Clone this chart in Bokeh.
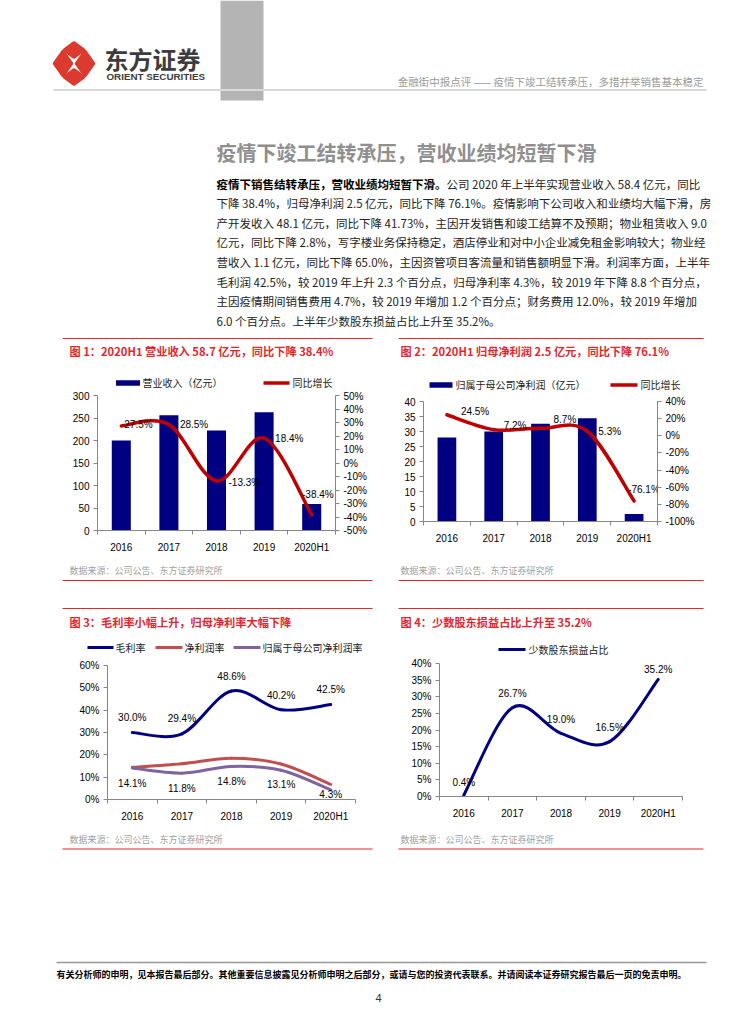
from bokeh.plotting import figure
from bokeh.layouts import column, row
from bokeh.models import Range1d, LinearAxis, FixedTicker, PrintfTickFormatter, ColumnDataSource, Label
from bokeh.core.properties import value
from bokeh.embed import file_html
from bokeh.resources import INLINE

# ---------------- data ----------------
categories = ["2016", "2017", "2018", "2019", "2020H1"]
revenue = [200, 256, 222, 263, 58.7]              # 营业收入（亿元）
revenue_yoy = [27.5, 28.5, -13.3, 18.4, -38.4]    # 同比增长 %
profit = [28.0, 30.0, 32.6, 34.4, 2.5]            # 归属于母公司净利润（亿元）
profit_yoy = [24.5, 7.2, 8.7, 5.3, -76.1]         # 同比增长 %
gross_margin = [30.0, 29.4, 48.6, 40.2, 42.5]     # 毛利率 %
net_margin = [14.4, 16.0, 18.5, 15.9, 6.8]        # 净利润率 %
parent_net_margin = [14.1, 11.8, 14.8, 13.1, 4.3] # 归属于母公司净利润率 %
minority_share = [0.4, 26.7, 19.0, 16.5, 35.2]    # 少数股东损益占比 %

rev_ticks = [0, 50, 100, 150, 200, 250, 300]
rev_yoy_ticks = [-50, -40, -30, -20, -10, 0, 10, 20, 30, 40, 50]
profit_ticks = [0, 5, 10, 15, 20, 25, 30, 35, 40]
profit_yoy_ticks = [-100, -80, -60, -40, -20, 0, 20, 40]
margin_ticks = [0, 10, 20, 30, 40, 50, 60]
minority_ticks = [0, 5, 10, 15, 20, 25, 30, 35, 40]

# ---------------- texts ----------------
header_text = "金融街中报点评 —— 疫情下竣工结转承压，多措并举销售基本稳定"
section_title = "疫情下竣工结转承压，营收业绩均短暂下滑"
para_bold = "疫情下销售结转承压，营收业绩均短暂下滑。"
para_lines = [
    "公司 2020 年上半年实现营业收入 58.4 亿元，同比",
    "下降 38.4%，归母净利润 2.5 亿元，同比下降 76.1%。疫情影响下公司收入和业绩均大幅下滑，房",
    "产开发收入 48.1 亿元，同比下降 41.73%，主因开发销售和竣工结算不及预期；物业租赁收入 9.0",
    "亿元，同比下降 2.8%，写字楼业务保持稳定，酒店停业和对中小企业减免租金影响较大；物业经",
    "营收入 1.1 亿元，同比下降 65.0%，主因资管项目客流量和销售额明显下滑。利润率方面，上半年",
    "毛利润 42.5%，较 2019 年上升 2.3 个百分点，归母净利率 4.3%，较 2019 年下降 8.8 个百分点，",
    "主因疫情期间销售费用 4.7%，较 2019 年增加 1.2 个百分点；财务费用 12.0%，较 2019 年增加",
    "6.0 个百分点。上半年少数股东损益占比上升至 35.2%。",
]
fig_titles = [
    "图 1：2020H1 营业收入 58.7 亿元，同比下降 38.4%",
    "图 2：2020H1 归母净利润 2.5 亿元，同比下降 76.1%",
    "图 3：毛利率小幅上升，归母净利率大幅下降",
    "图 4：少数股东损益占比上升至 35.2%",
]
source_text = "数据来源：公司公告、东方证券研究所"
footer_text = "有关分析师的申明，见本报告最后部分。其他重要信息披露见分析师申明之后部分，或请与您的投资代表联系。并请阅读本证券研究报告最后一页的免责申明。"
page_no = "4"

# ---------------- styles ----------------
CJK = "Noto Sans CJK SC"
LAT = "Liberation Sans"
RED = "#e3262d"
NAVY = "#000080"
DKRED = "#c00000"
AXIS = "#868686"
TS = 11.2   # figure title size


def canvas(x0, x1, y0, y1):
    f = figure(width=x1 - x0, height=y1 - y0, x_range=Range1d(x0, x1), y_range=Range1d(y1, y0),
               x_axis_type=None, y_axis_type=None, output_backend="svg", toolbar_location=None,
               min_border=0, outline_line_color=None, frame_align=False)
    return f


def put(f, x, y, s, size, color="#000000", font=CJK, bold=False, align="left"):
    f.text(x=[x], y=[y], text=[s], text_font=value(font), text_font_size=f"{size}px",
           text_color=color, text_align=align, text_baseline="middle",
           text_font_style="bold" if bold else "normal")


def hline(f, x0, x1, y, color, w):
    f.segment(x0=[x0], y0=[y], x1=[x1], y1=[y], line_color=color, line_width=w)


def style_axis(ax):
    ax.axis_line_color = AXIS
    ax.major_tick_line_color = AXIS
    ax.minor_tick_line_color = None
    ax.major_label_text_font = LAT
    ax.major_label_text_font_size = "10px"
    ax.major_label_text_color = "#000000"


def chart(x0, x1, y0, y1, fx0, fx1, fy0, fy1, yrange, yticks, pct=False):
    f = figure(width=x1 - x0, height=y1 - y0, x_range=Range1d(-0.5, len(categories) - 0.5),
               y_range=Range1d(*yrange), output_backend="svg", toolbar_location=None,
               min_border_left=fx0 - x0, min_border_right=x1 - fx1,
               min_border_top=fy0 - y0, min_border_bottom=y1 - fy1,
               outline_line_color=None, frame_align=False)
    f.grid.visible = False
    xa = f.xaxis[0]
    style_axis(xa)
    xa.ticker = FixedTicker(ticks=list(range(len(categories))),
                            minor_ticks=[i - 0.5 for i in range(len(categories) + 1)])
    xa.major_label_overrides = {i: c for i, c in enumerate(categories)}
    xa.major_tick_out = 0
    xa.major_tick_in = 0
    xa.minor_tick_line_color = AXIS
    xa.minor_tick_out = 4
    xa.minor_tick_in = 0
    xa.major_label_standoff = 7
    ya = f.yaxis[0]
    style_axis(ya)
    ya.ticker = FixedTicker(ticks=yticks)
    ya.major_tick_out = 4
    ya.major_tick_in = 0
    ya.major_label_standoff = 4
    if pct:
        ya.formatter = PrintfTickFormatter(format="%d%%")
    return f


def right_pct_axis(f, yrange, yticks):
    f.extra_y_ranges = {"pct": Range1d(*yrange)}
    ra = LinearAxis(y_range_name="pct", ticker=FixedTicker(ticks=yticks),
                    formatter=PrintfTickFormatter(format="%d%%"))
    style_axis(ra)
    ra.major_tick_out = 4
    ra.major_tick_in = 0
    ra.major_label_standoff = 4
    f.add_layout(ra, "right")


def smooth(f, ys, color, width, y_range_name="default"):
    xs = list(range(len(ys)))
    n = len(xs)
    d = dict(x0=[], y0=[], x1=[], y1=[], cx0=[], cy0=[], cx1=[], cy1=[])
    for i in range(n - 1):
        a = max(i - 1, 0)
        b = min(i + 2, n - 1)
        d["x0"].append(xs[i]); d["y0"].append(ys[i])
        d["x1"].append(xs[i + 1]); d["y1"].append(ys[i + 1])
        d["cx0"].append(xs[i] + (xs[i + 1] - xs[a]) / 6.0)
        d["cy0"].append(ys[i] + (ys[i + 1] - ys[a]) / 6.0)
        d["cx1"].append(xs[i + 1] - (xs[b] - xs[i]) / 6.0)
        d["cy1"].append(ys[i + 1] - (ys[b] - ys[i]) / 6.0)
    f.bezier(x0="x0", y0="y0", x1="x1", y1="y1", cx0="cx0", cy0="cy0", cx1="cx1", cy1="cy1",
             source=ColumnDataSource(d), line_color=color, line_width=width, line_cap="round",
             y_range_name=y_range_name)


def data_labels(f, ys, dx, dy_down, aligns, y_range_name="default"):
    for i, v in enumerate(ys):
        f.add_layout(Label(x=i, y=v, text=f"{v:.1f}%", x_offset=dx[i], y_offset=-dy_down[i],
                           text_font=LAT, text_font_size="10px", text_color="#000000",
                           text_align=aligns[i], text_baseline="middle", y_range_name=y_range_name))


W = 755
# ---------------- header + paragraph ----------------
top = canvas(0, W, 0, 335)
top.quad(left=[220], right=[263], top=[0], bottom=[100], fill_color="#b4b4b4", line_color=None)
hline(top, 53, 706, 89.5, "#d9d9d9", 2)
logo_x = [[54, 62.5, 71, 62.5], [76, 84.5, 93, 84.5], [64, 73.5, 83, 73.5], [64, 73.5, 83, 73.5]]
logo_y = [[63, 51, 63, 75], [63, 51, 63, 75], [49.5, 42.5, 49.5, 56.5], [76.5, 69.5, 76.5, 83.5]]
top.patches(xs=logo_x, ys=logo_y, fill_color="#dc3a2f", line_color="#dc3a2f", line_width=3.5, line_join="round")
put(top, 104, 57.5, "东方证券", 24, "#3c3c3c", bold=True)
put(top, 106, 75.5, "ORIENT SECURITIES", 9.8, "#3c3c3c", font=LAT, bold=True)
put(top, 703, 81, header_text, 10.5, "#9a9a9a", align="right")
put(top, 216, 152, section_title, 20, "#8f8f8f", bold=True)
line_y = [183 + i * 19.6 for i in range(len(para_lines))]
PS = 11.5
put(top, 216, line_y[0], para_bold, PS, "#000000", bold=True)
put(top, 216 + 20 * PS, line_y[0], para_lines[0], PS, "#222222")
for i in range(1, len(para_lines)):
    put(top, 216, line_y[i], para_lines[i], PS, "#222222")

# ---------------- chart 1 ----------------
c1_head = canvas(0, 385, 335, 390)
hline(c1_head, 62, 372, 338, RED, 1.2)
put(c1_head, 69, 350.5, fig_titles[0], TS, RED, bold=True)
c1_head.rect(x=[127.5], y=[382.5], width=24, height=5.5, fill_color=NAVY, line_color=None)
put(c1_head, 142, 382, "营业收入（亿元）", 10, "#222222")
hline(c1_head, 263, 289, 382.5, DKRED, 3.5)
put(c1_head, 292, 382, "同比增长", 10, "#222222")

c1 = chart(0, 385, 390, 560, 97, 335, 395, 530, (0, 300), rev_ticks)
right_pct_axis(c1, (-50, 50), rev_yoy_ticks)
c1.vbar(x=list(range(len(categories))), top=revenue, width=0.4, fill_color=NAVY, line_color=None)
smooth(c1, revenue_yoy, DKRED, 3.5, "pct")
data_labels(c1, revenue_yoy, [3, 11, 12, 11, 22], [-1, 0, 1.5, 0, -20],
            ["left", "left", "left", "left", "right"], "pct")

c1_src = canvas(0, 385, 560, 590)
put(c1_src, 69, 570, source_text, 9, "#a0a0a0")
hline(c1_src, 62, 372, 580, RED, 1.2)

# ---------------- chart 2 ----------------
c2_head = canvas(385, W, 335, 393)
hline(c2_head, 398, 703, 338, RED, 1.2)
put(c2_head, 400, 350.5, fig_titles[1], TS, RED, bold=True)
c2_head.rect(x=[440.5], y=[384.5], width=23, height=5.5, fill_color=NAVY, line_color=None)
put(c2_head, 455, 384, "归属于母公司净利润（亿元）", 10, "#222222")
hline(c2_head, 610, 637, 384.5, DKRED, 3.5)
put(c2_head, 640, 384, "同比增长", 10, "#222222")

c2 = chart(385, W, 393, 560, 423, 657, 401, 521, (0, 40), profit_ticks)
right_pct_axis(c2, (-100, 40), profit_yoy_ticks)
c2.vbar(x=list(range(len(categories))), top=profit, width=0.4, fill_color=NAVY, line_color=None)
smooth(c2, profit_yoy, DKRED, 3.5, "pct")
data_labels(c2, profit_yoy, [14, 10, 13, 11, -6], [-3, -4, -9, 0, -11.5], ["left"] * 5, "pct")

c2_src = canvas(385, W, 560, 590)
put(c2_src, 400, 570, source_text, 9, "#a0a0a0")
hline(c2_src, 398, 703, 580, RED, 1.2)

# ---------------- chart 3 ----------------
c3_head = canvas(0, 385, 590, 657)
hline(c3_head, 62, 372, 608, RED, 1.2)
put(c3_head, 69, 621, fig_titles[2], TS, RED, bold=True)
hline(c3_head, 87, 113, 647, NAVY, 3)
put(c3_head, 115, 647, "毛利率", 10, "#222222")
hline(c3_head, 155, 182, 647, "#c0504d", 3)
put(c3_head, 184, 647, "净利润率", 10, "#222222")
hline(c3_head, 233, 260, 647, "#8064a2", 3)
put(c3_head, 262, 647, "归属于母公司净利润率", 10, "#222222")

c3 = chart(0, 385, 657, 825, 107, 355, 665, 799, (0, 60), margin_ticks, pct=True)
smooth(c3, gross_margin, NAVY, 3)
smooth(c3, net_margin, "#c0504d", 3)
smooth(c3, parent_net_margin, "#8064a2", 3)
data_labels(c3, gross_margin, [0, 0, 0, 0, 0], [-15, -15, -14, -14, -15], ["center"] * 5)
data_labels(c3, parent_net_margin, [0, 0, 0, 0, 0], [15.5, 15, 15.5, 14.5, 5], ["center"] * 5)

c3_src = canvas(0, 385, 825, 860)
put(c3_src, 69, 839, source_text, 9, "#a0a0a0")
hline(c3_src, 62, 372, 848.5, RED, 1.2)

# ---------------- chart 4 ----------------
c4_head = canvas(385, W, 590, 657)
hline(c4_head, 398, 703, 608, RED, 1.2)
put(c4_head, 400, 621, fig_titles[3], TS, RED, bold=True)
hline(c4_head, 498, 525, 649, NAVY, 3)
put(c4_head, 528, 649, "少数股东损益占比", 10, "#222222")

c4 = chart(385, W, 657, 825, 439, 682, 663, 796, (0, 40), minority_ticks, pct=True)
smooth(c4, minority_share, NAVY, 3)
data_labels(c4, minority_share, [0, 0, 0, 0, 0], [-13, -14, -14, -14, -10], ["center"] * 5)

c4_src = canvas(385, W, 825, 860)
put(c4_src, 400, 839, source_text, 9, "#a0a0a0")
hline(c4_src, 398, 703, 848.5, RED, 1.2)

# ---------------- footer ----------------
foot = canvas(0, W, 860, 1020)
hline(foot, 56, 706, 962, "#999999", 1.5)
put(foot, 56, 974, footer_text, 9, "#000000", bold=True)
put(foot, 378, 997, page_no, 11, "#333333", font=LAT, align="center")

layout = column(
    top,
    row(column(c1_head, c1, c1_src), column(c2_head, c2, c2_src)),
    row(column(c3_head, c3, c3_src), column(c4_head, c4, c4_src)),
    foot,
)

open("out.html", "w").write(file_html(layout, INLINE))
